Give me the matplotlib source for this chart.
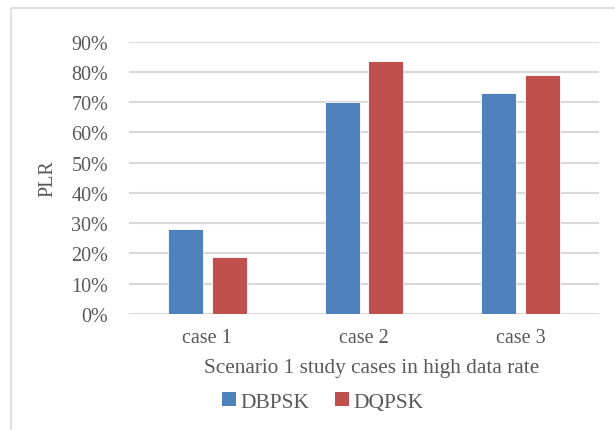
import numpy as np
import matplotlib.pyplot as plt
from matplotlib.patches import Rectangle, Patch

cases = ['case 1', 'case 2', 'case 3']
dbpsk = [0.28, 0.70, 0.73]
dqpsk = [0.19, 0.835, 0.79]
yticks = [0.0, 0.1, 0.2, 0.3, 0.4, 0.5, 0.6, 0.7, 0.8, 0.9]

blue = '#4F81BD'
red = '#C0504D'
grid_col = '#D9D9D9'
text_col = '#595959'

plt.rcParams['font.family'] = ['Liberation Serif', 'DejaVu Serif']

W, H = 615, 431
fig = plt.figure(figsize=(W / 100, H / 100), dpi=100)

# outer chart-area frame
fig.patches.append(Rectangle((11 / W, -0.05), 1.1, 1 - 9 / H + 0.05,
                             transform=fig.transFigure, fill=False,
                             edgecolor=grid_col, linewidth=1.2))

ax = fig.add_axes([129 / W, 1 - 315 / H, 470 / W, (315 - 42.7) / H])

x = np.arange(len(cases))
bw = 0.223
off = 0.14
ax.bar(x - off, dbpsk, width=bw, color=blue, edgecolor='white', linewidth=0.6, zorder=3)
ax.bar(x + off, dqpsk, width=bw, color=red, edgecolor='white', linewidth=0.6, zorder=3)

ax.set_xlim(-0.5, 2.5)
ax.set_ylim(0, 0.9)
ax.set_yticks(yticks)
ax.set_yticklabels([f'{int(round(v * 100))}%' for v in yticks])
ax.set_xticks(x)
ax.set_xticklabels(cases)
ax.tick_params(axis='both', length=0, labelsize=14.5, colors=text_col)
ax.tick_params(axis='y', pad=15)
ax.tick_params(axis='x', pad=10)

ax.grid(axis='y', color=grid_col, linewidth=1.5, zorder=0)
for s in ax.spines.values():
    s.set_visible(False)

ax.set_ylabel('PLR', fontsize=14.5, color=text_col, labelpad=10)

fig.text(372 / W, 1 - 369 / H, 'Scenario 1 study cases in high data rate',
         ha='center', va='center', fontsize=15.3, color=text_col)

handles = [Patch(facecolor=blue, label='DBPSK'), Patch(facecolor=red, label='DQPSK')]
fig.legend(handles=handles, loc='center', bbox_to_anchor=(323 / W, 1 - 403 / H),
           ncol=2, frameon=False, labelcolor=text_col,
           prop={'family': 'Liberation Serif', 'size': 15.5},
           handlelength=0.65, handleheight=0.65, handletextpad=0.2,
           columnspacing=1.2)

fig.savefig('out.png', dpi=100)
